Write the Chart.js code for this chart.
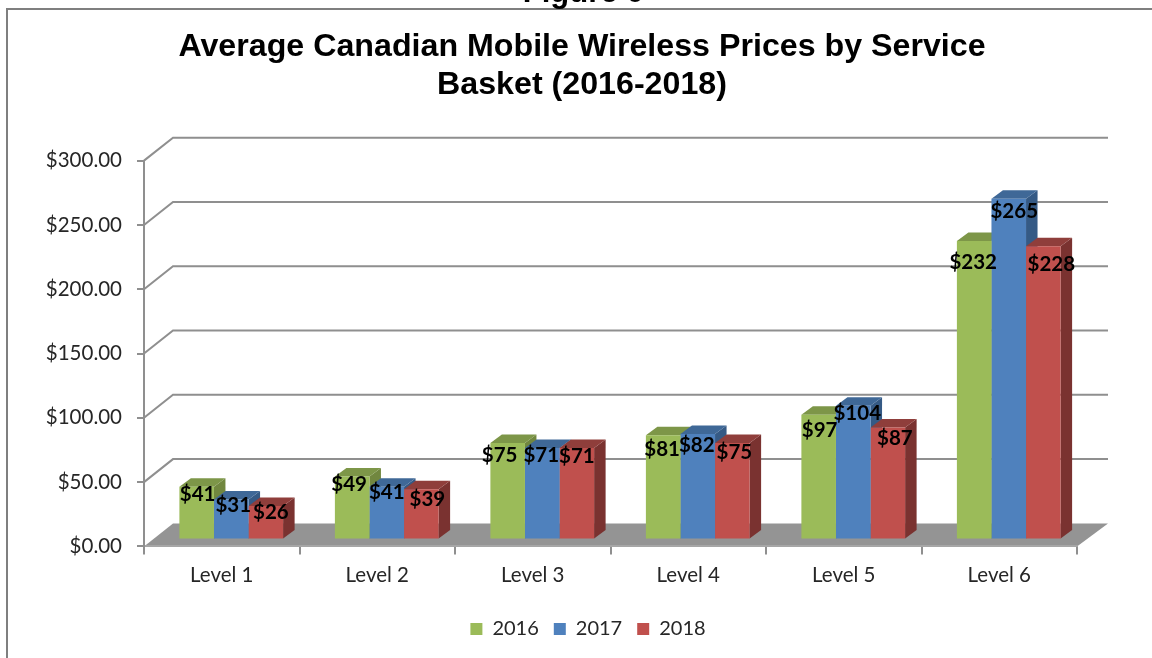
<!DOCTYPE html>
<html>
<head>
<meta charset="utf-8">
<title>Average Canadian Mobile Wireless Prices</title>
<script src="https://cdn.jsdelivr.net/npm/chart.js@4"></script>
<style>
    html, body { margin: 0; padding: 0; background: #fff; overflow: hidden; }
    canvas { display: block; }
</style>
</head>
<body>
<canvas id="priceChart" width="1152" height="658"></canvas>
<script>
const levels = ['Level 1', 'Level 2', 'Level 3', 'Level 4', 'Level 5', 'Level 6'];
const years = ['2016', '2017', '2018'];
const prices2016 = [41, 49, 75, 81, 97, 232];
const prices2017 = [31, 41, 71, 82, 104, 265];
const prices2018 = [26, 39, 71, 75, 87, 228];
const titleLines = ['Average Canadian Mobile Wireless Prices by Service', 'Basket (2016-2018)'];

const LABEL_FONT = 'Lato, "Open Sans", sans-serif';
const GRID_GREY = '#8f8f8f';

// 3d look: bars sit a bit inside the floor, each one has a side and a top face
const barShift = { x: 9.5, y: -7 };
const barDepth = { x: 11.5, y: -8.5 };
const wall = { left: 29, right: 31, rise: -23 };

// [front, top, side] for each year
const barColors = [
    ['#9bbb59', '#7d9648', '#71873f'],
    ['#4f81bd', '#3f6897', '#355a85'],
    ['#c0504d', '#8f3e3b', '#7a3230']
];

// the data labels were placed by hand in the original, offset from bar centre / front top
const labelShiftX = [
    [1, -3, -8, -1, 1, -1],
    [2, 0, -1, -1, 4, 5.5],
    [5, 6, 0, 2, 7, 8]
];
const labelShiftY = [
    [8, 8, 12, 14, 16, 21],
    [6, 6, 7, 11, 8, 13],
    [6, 10, 8, 9, 11, 18]
];

function poly(ctx, color, pts) {
    ctx.fillStyle = color;
    ctx.beginPath();
    pts.forEach(([x, y], i) => (i ? ctx.lineTo(x, y) : ctx.moveTo(x, y)));
    ctx.closePath();
    ctx.fill();
}

const frame3d = {
    id: 'frame3d',
    afterLayout(chart) {
        // title and legend are not centred on the page in the original
        chart.titleBlock.left = 12;
        chart.titleBlock.right = 1152;
        chart.legend.left = 24;
        chart.legend.right = 1152;
    },
    beforeDraw(chart) {
        const { ctx, chartArea: a, scales } = chart;
        ctx.save();
        // page furniture: chart border and the cut off figure caption
        ctx.strokeStyle = '#7f7f7f';
        ctx.lineWidth = 2;
        ctx.strokeRect(7, 9, 1200, 700);
        ctx.fillStyle = '#000';
        ctx.font = 'bold 31px "Liberation Sans", Arial, sans-serif';
        ctx.textAlign = 'center';
        ctx.textBaseline = 'alphabetic';
        ctx.fillText('Figure 6', 583, 2);

        // floor
        poly(ctx, '#949494', [
            [a.left, a.bottom], [a.right, a.bottom],
            [a.right + wall.right, a.bottom + wall.rise],
            [a.left + wall.left, a.bottom + wall.rise]
        ]);

        // back wall grid with the step down to the front axis
        ctx.strokeStyle = GRID_GREY;
        ctx.lineWidth = 2;
        scales.y.ticks.forEach((t) => {
            if (t.value === 0) return;
            const y = scales.y.getPixelForValue(t.value);
            ctx.beginPath();
            ctx.moveTo(a.left, y);
            ctx.lineTo(a.left + wall.left, y + wall.rise);
            ctx.lineTo(a.right + wall.right, y + wall.rise);
            ctx.stroke();
        });
        ctx.restore();
    },
    beforeDatasetsDraw(chart) {
        const { ctx } = chart;
        ctx.save();
        ctx.translate(barShift.x, barShift.y);
        // side and top faces first, fronts come from chart.js afterwards
        chart.data.datasets.forEach((ds, i) => {
            chart.getDatasetMeta(i).data.forEach((bar) => {
                const l = bar.x - bar.width / 2;
                const r = bar.x + bar.width / 2;
                const dx = barDepth.x;
                const dy = barDepth.y;
                poly(ctx, barColors[i][2], [[r, bar.y], [r + dx, bar.y + dy], [r + dx, bar.base + dy], [r, bar.base]]);
                poly(ctx, barColors[i][1], [[l, bar.y], [l + dx, bar.y + dy], [r + dx, bar.y + dy], [r, bar.y]]);
            });
        });
    },
    afterDatasetsDraw(chart) {
        const { ctx } = chart;
        ctx.restore();
        ctx.save();
        ctx.fillStyle = '#000';
        ctx.font = 'bold 20.5px ' + LABEL_FONT;
        ctx.textAlign = 'center';
        ctx.textBaseline = 'middle';
        chart.data.datasets.forEach((ds, i) => {
            chart.getDatasetMeta(i).data.forEach((bar, j) => {
                const x = bar.x + barShift.x + labelShiftX[i][j];
                const y = bar.y + barShift.y + labelShiftY[i][j];
                ctx.fillText('$' + ds.data[j], x, y);
            });
        });
        ctx.restore();
    }
};

new Chart(document.getElementById('priceChart'), {
    type: 'bar',
    data: {
        labels: levels,
        datasets: [
            { label: years[0], data: prices2016, backgroundColor: barColors[0][0] },
            { label: years[1], data: prices2017, backgroundColor: barColors[1][0] },
            { label: years[2], data: prices2018, backgroundColor: barColors[2][0] }
        ]
    },
    options: {
        responsive: false,
        animation: false,
        clip: false,
        layout: { padding: { left: 30, right: 75, top: 28, bottom: 9 } },
        datasets: { bar: { barPercentage: 1, categoryPercentage: 0.667 } },
        plugins: {
            tooltip: { enabled: false },
            title: {
                display: true,
                text: titleLines,
                color: '#000',
                font: { family: '"Liberation Sans", Arial, sans-serif', size: 32.2, weight: 'bold', lineHeight: 1.19 },
                padding: { top: 0, bottom: 56 }
            },
            legend: {
                position: 'bottom',
                labels: {
                    boxWidth: 12,
                    boxHeight: 12,
                    padding: 15,
                    color: '#262626',
                    font: { family: LABEL_FONT, size: 20 }
                }
            }
        },
        scales: {
            x: {
                afterFit(scale) { scale.height += 7; },
                grid: { drawOnChartArea: false, tickLength: 8, color: GRID_GREY, lineWidth: 2 },
                border: { color: '#a6a6a6', width: 2 },
                ticks: { color: '#262626', padding: 9, font: { family: LABEL_FONT, size: 20.5 }, maxRotation: 0 }
            },
            y: {
                min: 0,
                max: 300,
                afterFit(scale) { scale.width = 114; },
                grid: { drawOnChartArea: false, tickLength: 7, color: GRID_GREY, lineWidth: 2 },
                border: { color: GRID_GREY, width: 2 },
                ticks: {
                    stepSize: 50,
                    color: '#262626',
                    padding: 15,
                    font: { family: LABEL_FONT, size: 20.5 },
                    callback: (v) => '$' + v.toFixed(2)
                }
            }
        }
    },
    plugins: [frame3d]
});
</script>
</body>
</html>
